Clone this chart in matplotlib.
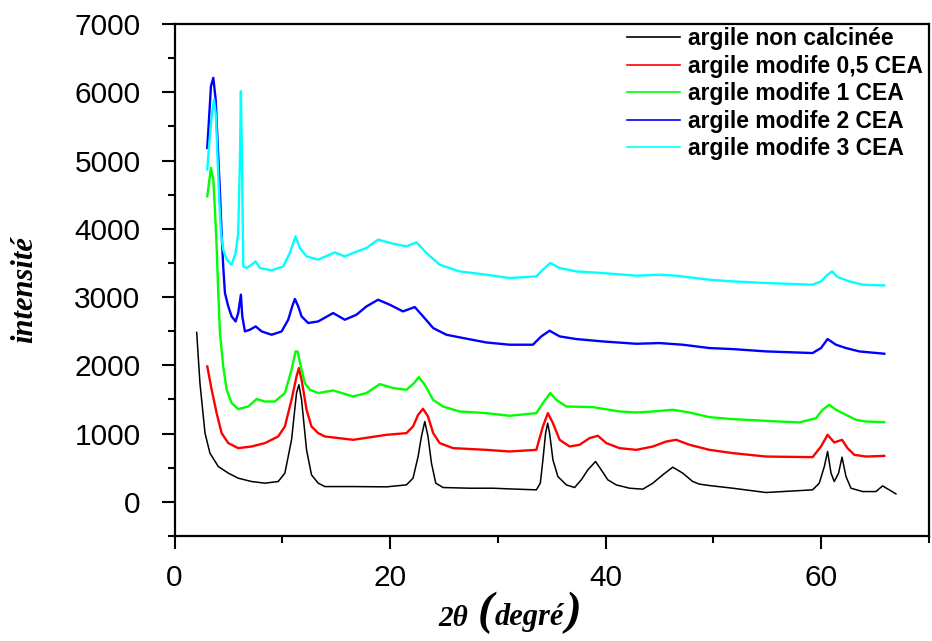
import matplotlib
matplotlib.use('Agg')
import matplotlib.pyplot as plt
from matplotlib.ticker import MultipleLocator

# data (2theta in degrees, intensity in counts)
tt_black = [2.06, 2.36, 2.83, 3.29, 4.06, 4.99, 5.91, 7.15, 8.39, 9.62, 10.24, 10.86, 11.32, 11.54,
            11.79, 12.25, 12.71, 13.33, 13.95, 16.57, 19.67, 21.52, 22.13, 22.6, 22.91, 23.22, 23.52,
            23.84, 24.24, 24.92, 27.39, 29.55, 31.09, 33.57, 33.94, 34.18, 34.43, 34.62, 34.80, 35.11,
            35.57, 36.35, 37.12, 37.74, 38.35, 39.06, 39.59, 40.2, 40.98, 42.22, 43.45, 44.38, 45.3,
            46.23, 47.15, 48.08, 48.7, 49.63, 51.79, 54.88, 59.2, 59.82, 60.29, 60.59, 60.91, 61.21,
            61.61, 61.93, 62.3, 62.76, 63.84, 65.08, 65.69, 66.31, 66.93]
i_black = [2482, 1740, 1007, 714, 518, 421, 347, 298, 274, 298, 421, 909, 1594, 1715,
           1495, 762, 396, 274, 224, 224, 220, 249, 347, 664, 958, 1177, 958,
           567, 274, 210, 200, 200, 190, 176, 274, 616, 1007, 1153, 1007, 616,
           371, 249, 210, 323, 469, 591, 469, 323, 249, 200, 186, 274, 396,
           508, 421, 298, 260, 239, 200, 137, 176, 274, 518, 738, 421, 298,
           421, 655, 371, 200, 151, 151, 234, 176, 117]

tt_red = [3.04, 3.45, 3.91, 4.37, 4.99, 5.91, 7.15, 8.39, 9.62, 10.24, 10.86, 11.32, 11.54, 11.79,
          12.25, 12.71, 13.33, 13.95, 16.57, 19.67, 21.52, 22.13, 22.6, 23.06, 23.52, 24.0, 24.6,
          25.84, 28.93, 31.09, 33.57, 34.18, 34.64, 35.11, 35.73, 36.66, 37.58, 38.51, 39.28, 40.06,
          41.29, 42.84, 44.38, 45.62, 46.54, 47.78, 49.63, 51.79, 54.88, 59.2, 59.98, 60.59, 61.21,
          61.93, 62.44, 63.07, 64.15, 65.85]
i_red = [1984, 1642, 1300, 1007, 861, 787, 811, 861, 958, 1104, 1495, 1837, 1960, 1789,
         1349, 1104, 1007, 958, 909, 982, 1007, 1104, 1275, 1363, 1251, 1007, 861,
         787, 762, 738, 762, 1104, 1300, 1153, 909, 811, 836, 934, 968, 861,
         787, 762, 811, 884, 909, 836, 762, 714, 664, 655, 811, 982, 870,
         909, 787, 689, 664, 674]

tt_green = [3.04, 3.2, 3.38, 3.6, 3.75, 3.91, 4.06, 4.22, 4.52, 4.84, 5.3, 5.91, 6.84, 7.62, 8.39,
            9.31, 10.24, 10.86, 11.23, 11.42, 11.72, 12.09, 12.56, 13.33, 14.72, 16.57, 17.81, 19.05,
            20.28, 21.52, 22.23, 22.66, 23.22, 23.99, 24.91, 26.44, 28.93, 31.09, 33.57, 34.18, 34.86,
            35.42, 36.35, 38.81, 41.29, 42.84, 44.38, 46.23, 47.78, 49.63, 51.79, 54.88, 57.97, 59.52,
            60.13, 60.75, 61.37, 62.3, 63.22, 64.15, 65.85]
i_green = [4476, 4672, 4892, 4721, 4281, 3743, 3060, 2473, 1984, 1642, 1447, 1359, 1397, 1506, 1470,
           1470, 1594, 1935, 2203, 2203, 1984, 1740, 1642, 1594, 1632, 1544, 1594, 1725,
           1667, 1642, 1740, 1828, 1715, 1495, 1397, 1324, 1300, 1261, 1300, 1447, 1594,
           1495, 1397, 1388, 1324, 1309, 1324, 1349, 1309, 1241, 1212, 1187, 1163, 1227,
           1349, 1422, 1349, 1275, 1202, 1177, 1168]

tt_blue = [3.04, 3.2, 3.38, 3.6, 3.82, 4.0, 4.22, 4.37, 4.52, 4.68, 4.99, 5.3, 5.67, 5.91, 6.16,
           6.29, 6.53, 7.0, 7.53, 8.08, 9.01, 9.94, 10.55, 10.92, 11.17, 11.48, 11.79, 12.4, 13.33,
           14.72, 15.8, 16.88, 17.81, 18.89, 19.97, 21.2, 22.29, 23.06, 24.0, 25.23, 26.77, 28.93,
           31.09, 33.25, 34.03, 34.8, 35.73, 37.27, 39.74, 42.84, 45.0, 47.15, 49.63, 51.79, 54.88,
           59.2, 59.98, 60.59, 61.37, 62.3, 63.53, 65.85]
i_blue = [5184, 5600, 6088, 6211, 5893, 5258, 4526, 3939, 3449, 3060, 2863, 2717, 2643, 2766, 3035,
          2717, 2497, 2522, 2570, 2497, 2448, 2497, 2668, 2863, 2972, 2863, 2717, 2620, 2643,
          2766, 2668, 2741, 2863, 2961, 2888, 2790, 2854, 2717, 2546, 2448, 2400, 2335,
          2302, 2302, 2424, 2507, 2424, 2385, 2350, 2316, 2326, 2302, 2253, 2238, 2204,
          2180, 2253, 2385, 2302, 2253, 2204, 2170]

tt_cyan = [3.04, 3.2, 3.45, 3.66, 3.85, 4.0, 4.15, 4.31, 4.52, 4.84, 5.3, 5.67, 5.91, 6.07, 6.16,
           6.26, 6.38, 6.69, 7.15, 7.53, 7.92, 9.01, 10.09, 10.7, 11.23, 11.63, 12.25, 13.33, 14.87,
           15.8, 16.57, 17.81, 18.89, 20.28, 21.52, 22.45, 23.37, 24.6, 26.44, 28.93, 31.09, 33.57,
           34.18, 34.86, 35.73, 37.27, 39.74, 42.84, 45.0, 46.54, 49.63, 51.79, 54.88, 59.2, 59.98,
           60.59, 61.0, 61.52, 62.6, 63.84, 65.85]
i_cyan = [4867, 5209, 5649, 5893, 5649, 5014, 4427, 3939, 3694, 3548, 3474, 3646, 3939, 5014, 6015,
          5014, 3449, 3426, 3474, 3523, 3426, 3391, 3449, 3646, 3889, 3719, 3596, 3548, 3655,
          3596, 3646, 3719, 3841, 3782, 3743, 3802, 3646, 3474, 3376, 3328, 3279, 3303,
          3401, 3499, 3426, 3376, 3352, 3313, 3328, 3313, 3254, 3230, 3206, 3181, 3230,
          3328, 3376, 3294, 3230, 3181, 3171]

labels = ['argile non calcinée', 'argile modife 0,5 CEA', 'argile modife 1 CEA',
          'argile modife 2 CEA', 'argile modife 3 CEA']

W, H = 932, 641
fig = plt.figure(figsize=(W / 100, H / 100), dpi=100)
ax = fig.add_axes([174.5 / W, 1 - 536 / H, (929 - 174.5) / W, (536 - 24) / H])

ax.plot(tt_black, i_black, color='#000000', lw=1.1, label=labels[0])
ax.plot(tt_red, i_red, color='#ff0000', lw=1.7, label=labels[1])
ax.plot(tt_green, i_green, color='#00ff00', lw=1.7, label=labels[2])
ax.plot(tt_blue, i_blue, color='#0000ff', lw=1.7, label=labels[3])
ax.plot(tt_cyan, i_cyan, color='#00ffff', lw=1.7, label=labels[4])

ax.set_xlim(0, 70)
ax.set_ylim(-500, 7000)
ax.set_xticks([0, 20, 40, 60])
ax.xaxis.set_minor_locator(MultipleLocator(10))
ax.set_yticks(range(0, 7001, 1000))
ax.yaxis.set_minor_locator(MultipleLocator(500))

for sp in ax.spines.values():
    sp.set_linewidth(1.6)
ax.tick_params(which='both', direction='out', width=1.5, top=False, right=False)
ax.tick_params(which='major', length=9.5, labelsize=21.5)
ax.tick_params(which='minor', length=5)
ax.tick_params(axis='y', which='major', pad=15)
ax.tick_params(axis='x', which='major', pad=11)
for lab in ax.get_xticklabels() + ax.get_yticklabels():
    lab.set_family('Liberation Sans')

leg = ax.legend(loc='upper left', bbox_to_anchor=(627 / W, 1 - 27 / H), bbox_transform=fig.transFigure,
                frameon=False, borderpad=0, borderaxespad=0, labelspacing=0.2,
                handlelength=2.3, handletextpad=0.35,
                prop={'family': 'Liberation Sans', 'weight': 'bold', 'size': 16.5})
for h in leg.get_lines():
    h.set_linewidth(1.2)

# axis titles in bold italic serif, x one with tall brackets
serif = dict(family='Liberation Serif', weight='bold', style='italic')
fig.text(25 / W, 1 - 290 / H, 'intensité', rotation=90, ha='center', va='center', fontsize=22, **serif)
fig.text(453 / W, 1 - 618 / H, '2θ', ha='center', va='center', fontsize=21, **serif)
fig.text(486 / W, 1 - 613 / H, '(', ha='center', va='center', fontsize=34, **serif)
fig.text(529 / W, 1 - 617 / H, 'degré', ha='center', va='center', fontsize=22, **serif)
fig.text(573 / W, 1 - 613 / H, ')', ha='center', va='center', fontsize=34, **serif)

fig.savefig('out.png', dpi=100)
